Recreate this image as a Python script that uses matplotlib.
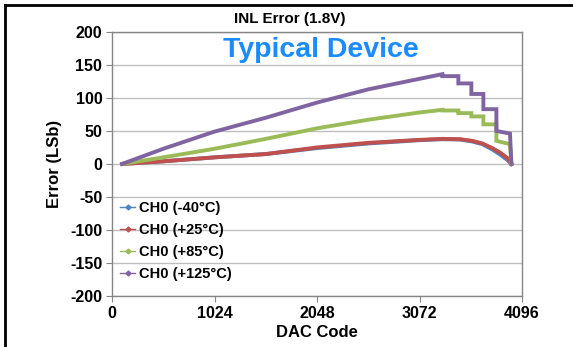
"""INL error vs DAC code at 1.8 V, four temperatures (typical device)."""
import matplotlib
matplotlib.use("Agg")
import matplotlib.pyplot as plt
from matplotlib.lines import Line2D

plt.rcParams["font.family"] = ["Liberation Sans", "DejaVu Sans"]
plt.rcParams["font.weight"] = "bold"
plt.rcParams["axes.unicode_minus"] = False

# rising part, shared codes
RAMP_CODES = [100, 512, 1024, 1536, 2048, 2560, 3072, 3300]
# stair-step tail for the hot curves (repeated codes = vertical jumps)
STEP_CODES = [3300, 3460, 3460, 3590, 3590, 3710, 3710, 3840, 3840, 3976, 3990]
# smooth tail for the cold curves
TAIL_CODES = [3477, 3600, 3700, 3800, 3880, 3950, 3990]

ramp_m40 = [0, 4, 10, 15, 24, 31, 36, 37.5]
tail_m40 = [37, 34, 30, 22, 14, 6, 0]
ramp_25 = [0, 4, 10, 15, 25, 32, 36.5, 38]
tail_25 = [37.5, 35, 31, 24, 17, 9, 0]
ramp_85 = [0, 10, 23, 38, 54, 67, 78, 82]
step_85 = [81, 81, 77, 77, 72, 72, 60, 60, 35, 30, 0]
ramp_125 = [0, 23, 49, 70, 93, 113, 129, 136]
step_125 = [133, 133, 122, 122, 106, 106, 83, 83, 50, 46, 0]

labels = ["CH0 (-40°C)", "CH0 (+25°C)", "CH0 (+85°C)", "CH0 (+125°C)"]
colors = ["#4F81BD", "#C0504D", "#9BBB59", "#8064A2"]

y_ticks = [-200, -150, -100, -50, 0, 50, 100, 150, 200]
x_ticks = [0, 1024, 2048, 3072, 4096]


def main():
    fig = plt.figure(figsize=(5.73, 3.47), dpi=100)
    ax = fig.add_axes([0.1955, 0.147, 0.7155, 0.761])

    series = [
        (RAMP_CODES + TAIL_CODES, ramp_m40 + tail_m40),
        (RAMP_CODES + TAIL_CODES, ramp_25 + tail_25),
        (RAMP_CODES + STEP_CODES, ramp_85 + step_85),
        (RAMP_CODES + STEP_CODES, ramp_125 + step_125),
    ]
    for (xs, ys), lab, col in zip(series, labels, colors):
        ax.plot(xs, ys, color=col, linewidth=2.8, label=lab,
                solid_joinstyle="miter")

    ax.set_xlim(0, 4096)
    ax.set_ylim(-200, 200)
    ax.set_xticks(x_ticks)
    ax.set_yticks(y_ticks)
    ax.tick_params(labelsize=11.5, length=4, direction="out",
                   color="#868686", pad=3)
    ax.grid(True, axis="y", color="#BFBFBF", linewidth=1.0)
    ax.set_axisbelow(True)
    for s in ax.spines.values():
        s.set_color("#868686")
        s.set_linewidth(1.0)

    ax.set_xlabel("DAC Code", fontsize=12, fontweight="bold", labelpad=3)
    ax.set_ylabel("Error (LSb)", fontsize=12, fontweight="bold", labelpad=6)

    handles = [Line2D([0], [0], color=c, linewidth=1.0, marker="D",
                      markersize=2.5) for c in colors]
    ax.legend(handles, labels, loc="lower left", fontsize=10.5,
              frameon=False, handlelength=1.0, handletextpad=0.3,
              labelspacing=0.55, bbox_to_anchor=(-0.012, 0.008))

    fig.text(0.506, 0.945, "INL Error (1.8V)", ha="center", va="center",
             fontsize=11, fontweight="bold")
    ax.text(0.51, 0.93, "Typical Device", transform=ax.transAxes,
            ha="center", va="center", fontsize=20.5, fontweight="bold",
            color="#1A8CFF")

    # black frame on the top and left edges of the image
    fig.add_artist(Line2D([0.0087, 0.0087], [0, 0.986], color="black",
                          linewidth=2, transform=fig.transFigure))
    fig.add_artist(Line2D([0.0087, 1.0], [0.986, 0.986], color="black",
                          linewidth=2, transform=fig.transFigure))

    fig.savefig("out.png", dpi=100)
    plt.close(fig)


if __name__ == "__main__":
    main()
